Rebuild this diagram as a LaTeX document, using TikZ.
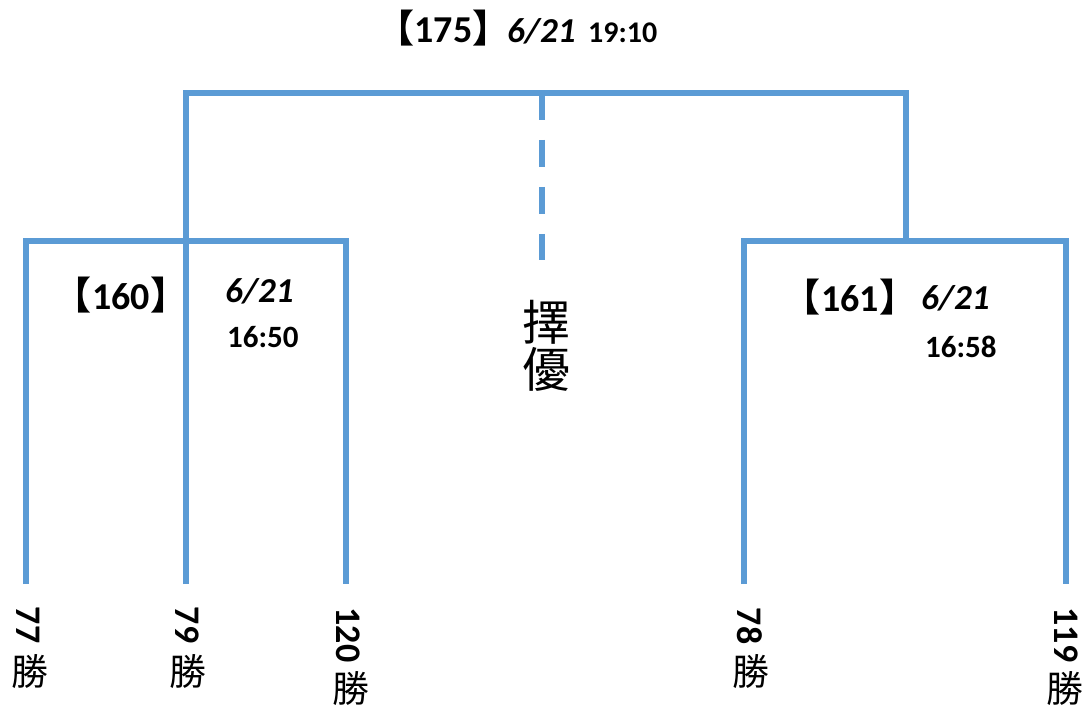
\documentclass[tikz,border=0pt]{standalone}
\usepackage{fontspec}
\setmainfont{Carlito}
\newfontfamily\cjk{Noto Sans CJK TC}
\definecolor{lineblue}{HTML}{5B9BD5}
\newcommand\myfs[1]{\fontsize{#1}{#1}\selectfont}
\tikzset{
  bline/.style={draw=lineblue, line width=6pt, line join=miter},
  dline/.style={draw=lineblue, line width=6pt, dash pattern=on 27pt off 20pt},
  lbl/.style={inner sep=0pt, font=\bfseries},
  vnum/.style={inner sep=0pt, font=\bfseries\myfs{36}, rotate=-90},
  win/.style={inner sep=0pt, font=\cjk\myfs{37}},
}
\begin{document}
\begin{tikzpicture}[x=1pt,y=-1pt]
\useasboundingbox (0,0) rectangle (1089,708);
% coordinates
\coordinate (topL) at (186,93);
\coordinate (topR) at (906,93);
\coordinate (topM) at (542,93);
\coordinate (dashEnd) at (542,260);
\coordinate (rJoin) at (906,241);
\coordinate (lbL) at (26,241);
\coordinate (lbR) at (346,241);
\coordinate (rbL) at (744,241);
\coordinate (rbR) at (1066,241);
\coordinate (e77) at (26,584);
\coordinate (e79) at (186,584);
\coordinate (e120) at (346,584);
\coordinate (e78) at (744,584);
\coordinate (e119) at (1066,584);
% lines
\draw[bline] (e79) -- (topL) -- (topR) -- (rJoin);
\draw[bline] (e77) -- (lbL) -- (lbR) -- (e120);
\draw[bline] (e78) -- (rbL) -- (rbR) -- (e119);
\draw[dline] (topM) -- (dashEnd);
% title
\node[lbl, anchor=base] (n175) at (443.5,43) {\myfs{38}175};
\node[lbl, anchor=base east, font=\cjk\bfseries\myfs{38}] (b175l) at (n175.base west) {【};
\node[lbl, anchor=base west, font=\cjk\bfseries\myfs{38}] (b175r) at (n175.base east) {】};
\node[lbl, anchor=base west] (d175) at (507,43) {\myfs{35}\itshape 6/21};
\node[lbl, anchor=base west] (t175) at (588,43) {\myfs{30}19:10};
% 160
\node[lbl, anchor=base] (n160) at (121,310) {\myfs{38}160};
\node[lbl, anchor=base east, font=\cjk\bfseries\myfs{38}] (b160l) at (n160.base west) {【};
\node[lbl, anchor=base west, font=\cjk\bfseries\myfs{38}] (b160r) at (n160.base east) {】};
\node[lbl, anchor=base west] (d160) at (225,303) {\myfs{35}\itshape 6/21};
\node[lbl, anchor=base west] (t160) at (227,348) {\myfs{31}16:50};
% 161
\node[lbl, anchor=base] (n161) at (850,312) {\myfs{38}161};
\node[lbl, anchor=base east, font=\cjk\bfseries\myfs{38}] (b161l) at (n161.base west) {【};
\node[lbl, anchor=base west, font=\cjk\bfseries\myfs{38}] (b161r) at (n161.base east) {】};
\node[lbl, anchor=base west] (d161) at (921,310) {\myfs{35}\itshape 6/21};
\node[lbl, anchor=base west] (t161) at (925,357) {\myfs{31}16:58};
% middle
\node[inner sep=0pt, font=\cjk\myfs{48}] (ze) at (546,322) {擇};
\node[inner sep=0pt, font=\cjk\myfs{48}] (you) at (546,369) {優};
% bottom labels
\node[vnum] (l77) at (28.5,625) {77};
\node[win] (w77) at (30,672) {勝};
\node[vnum] (l79) at (187.5,625) {79};
\node[win] (w79) at (188,672) {勝};
\node[vnum] (l120) at (348.5,635) {120};
\node[win] (w120) at (351,689) {勝};
\node[vnum] (l78) at (750,626) {78};
\node[win] (w78) at (751,672) {勝};
\node[vnum] (l119) at (1066,635) {119};
\node[win] (w119) at (1065,689) {勝};
\end{tikzpicture}
\end{document}
